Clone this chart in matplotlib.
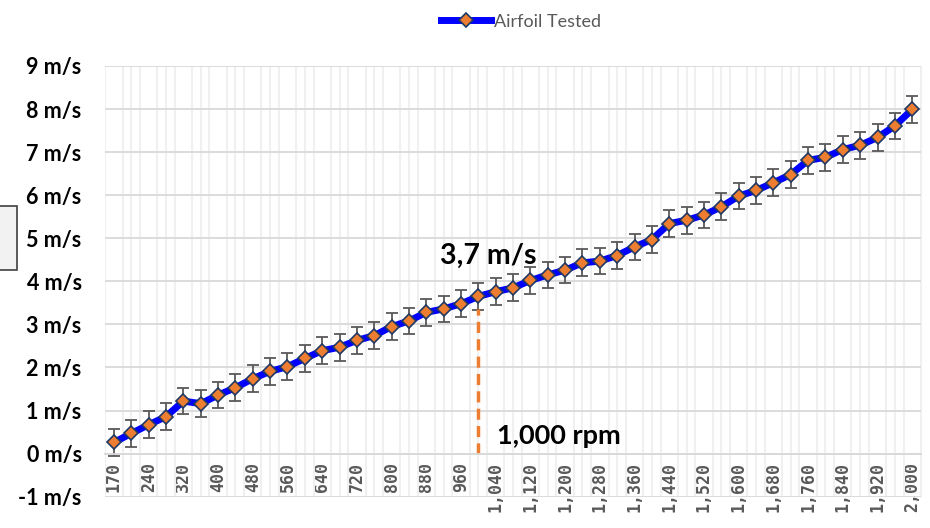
import numpy as np
import matplotlib.pyplot as plt
from matplotlib.patches import Rectangle

# =========================
# Data
# =========================
rpm = [170, 200, 240, 280, 320, 360, 400, 440, 480, 520, 560, 600, 640, 680,
       720, 760, 800, 840, 880, 920, 960, 1000, 1040, 1080, 1120, 1160, 1200,
       1240, 1280, 1320, 1360, 1400, 1440, 1480, 1520, 1560, 1600, 1640, 1680,
       1720, 1760, 1800, 1840, 1880, 1920, 1960, 2000]
speed = [0.26, 0.47, 0.67, 0.86, 1.22, 1.16, 1.36, 1.53, 1.74, 1.91, 2.02, 2.21,
         2.39, 2.47, 2.63, 2.74, 2.95, 3.08, 3.28, 3.36, 3.48, 3.65, 3.76, 3.85,
         4.02, 4.15, 4.26, 4.43, 4.47, 4.60, 4.80, 4.97, 5.34, 5.42, 5.54, 5.73,
         5.98, 6.11, 6.29, 6.48, 6.81, 6.88, 7.06, 7.16, 7.34, 7.61, 7.99]
speed_err = 0.31
y_ticks = [-1, 0, 1, 2, 3, 4, 5, 6, 7, 8, 9]

marker_rpm = 1000
marker_top = 3.35
marker_label = "3,7 m/s"
rpm_label = "1,000 rpm"

# =========================
# Figure
# =========================
fig = plt.figure(figsize=(9.3, 5.28), dpi=100)
ax = fig.add_axes([0.1132, 0.0593, 0.877, 0.8157])

x = np.arange(len(rpm))

# x axis crosses at 0 (set before tick labels, it resets the ticks)
ax.spines["bottom"].set_position(("data", 0))
ax.spines["bottom"].set_color("#D9D9D9")
ax.spines["bottom"].set_linewidth(1.3)
for side in ["top", "left"]:
    ax.spines[side].set_visible(False)
ax.spines["right"].set_color("#F0F0F0")

ax.errorbar(x, speed, yerr=speed_err, fmt="none", ecolor="#595959",
            elinewidth=1.3, capsize=4, capthick=1.3, zorder=2)
ax.plot(x, speed, color="#0000FF", lw=5, marker="D", ms=6.8,
        mfc="#ED7D31", mec="#1F3864", mew=1.2, label="Airfoil Tested", zorder=3)

# dashed marker at 1000 rpm
xi = rpm.index(marker_rpm)
ax.plot([xi, xi], [0, marker_top], color="#ED7D31", lw=2.5,
        ls=(0, (3.2, 1.8)), zorder=2.5)
ax.text(xi - 2.2, 4.6, marker_label, fontsize=20.5, fontweight="bold",
        family="Lato", ha="left", va="center")
ax.text(xi + 1.1, 0.4, rpm_label, fontsize=19.5, fontweight="bold",
        family="Lato", ha="left", va="center")

# axes limits / grid
ax.set_xlim(-0.5, len(rpm) - 0.5)
ax.set_ylim(-1, 9)
ax.set_yticks(y_ticks)
ax.set_yticklabels([f"{v} m/s" for v in y_ticks], fontsize=15.5,
                   fontweight="bold", family="Lato")

ax.set_xticks(x[::2])
ax.set_xticklabels([f"{v:,}" for v in rpm[::2]], rotation=90,
                   fontsize=12, fontweight="bold", family="DejaVu Sans Mono",
                   color="#595959", va="top", ha="center")
ax.set_xticks(np.arange(-0.5, len(rpm), 0.5), minor=True)

ax.grid(axis="y", which="major", color="#D9D9D9", lw=1.3, zorder=0)
ax.grid(axis="x", which="minor", color="#F0F0F0", lw=1.5, zorder=0)
ax.set_axisbelow(True)

ax.tick_params(axis="both", which="both", length=0)
ax.tick_params(axis="y", pad=17)
ax.tick_params(axis="x", pad=6)

leg = fig.legend(loc="upper center", bbox_to_anchor=(0.56, 1.005), frameon=False,
                 prop={"family": "Lato", "size": 13}, handlelength=2.8,
                 handletextpad=0.15)
for t in leg.get_texts():
    t.set_color("#595959")

# clipped text box on the left edge
fig.patches.append(Rectangle((-0.01, 1 - 270 / 528), 0.0283, 64 / 528,
                             transform=fig.transFigure, facecolor="#F2F2F2",
                             edgecolor="#404040", lw=1.2))

fig.savefig("out.png", dpi=100)
